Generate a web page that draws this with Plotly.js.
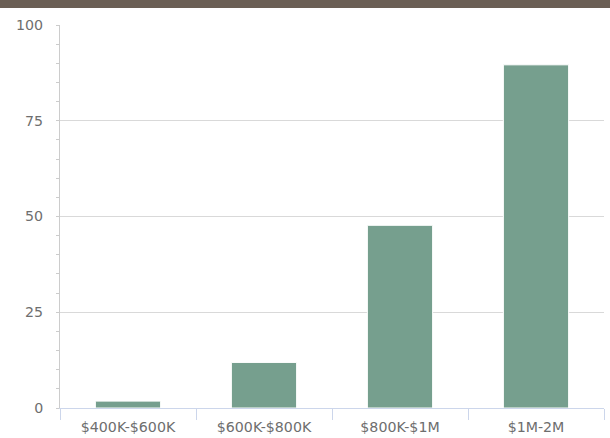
<!DOCTYPE html>
<html>
<head>
<meta charset="utf-8">
<script src="https://cdn.plot.ly/plotly-3.0.1.min.js"></script>
<style>
html,body{margin:0;padding:0;background:#fff;}
#wrap{position:relative;width:610px;height:438px;overflow:hidden;}
#band{position:absolute;left:0;top:0;width:610px;height:8px;background:#6b5f55;z-index:2;}
#chart{position:absolute;left:0;top:0;width:610px;height:438px;}
</style>
</head>
<body>
<div id="wrap"><div id="band"></div><div id="chart"></div></div>
<script>
const categories = ["$400K-$600K", "$600K-$800K", "$800K-$1M", "$1M-2M"];
const values = [1.8, 11.9, 47.7, 89.6];
const yTicks = [0, 25, 50, 75, 100];

const trace = {
  type: "bar",
  x: categories,
  y: values,
  width: 0.48,
  marker: {color: "#769f8e", line: {color: "#ffffff", width: 1}},
  hoverinfo: "x+y"
};

const layout = {
  width: 610,
  height: 438,
  margin: {l: 60, r: 6, t: 25, b: 30},
  paper_bgcolor: "#ffffff",
  plot_bgcolor: "#ffffff",
  showlegend: false,
  font: {family: "DejaVu Sans", size: 14.2, color: "#6e6e6e"},
  bargap: 0.52,
  xaxis: {
    type: "category",
    showgrid: false,
    showline: true,
    linecolor: "#ccd6eb",
    linewidth: 1,
    ticks: "outside",
    tickson: "boundaries",
    ticklen: 11,
    tickcolor: "#ccd6eb",
    ticklabelstandoff: 6,
    tickfont: {family: "DejaVu Sans", size: 14.2, color: "#6e6e6e"},
    zeroline: false
  },
  yaxis: {
    range: [0, 100],
    tickvals: yTicks,
    ticktext: yTicks.map(String),
    showgrid: true,
    gridcolor: "#d9d9d9",
    gridwidth: 1,
    showline: true,
    linecolor: "#cccccc",
    linewidth: 1,
    ticks: "outside",
    ticklen: 3,
    tickcolor: "#cccccc",
    ticklabelstandoff: 10,
    minor: {dtick: 5, ticks: "outside", ticklen: 3, tickcolor: "#cccccc", showgrid: false},
    zeroline: false,
    tickfont: {family: "DejaVu Sans", size: 14.2, color: "#6e6e6e"}
  }
};

Plotly.newPlot("chart", [trace], layout, {displayModeBar: false, staticPlot: true});
</script>
</body>
</html>
